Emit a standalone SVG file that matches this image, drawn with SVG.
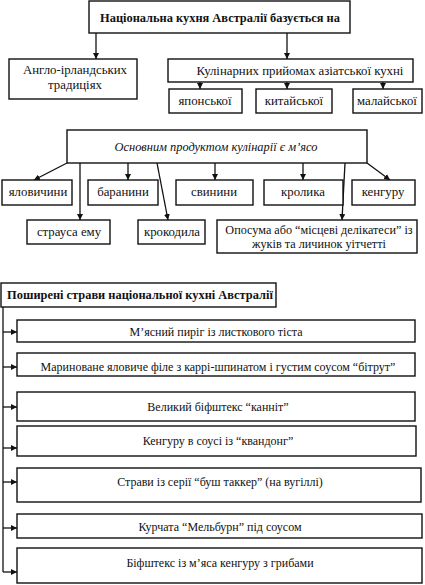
<svg xmlns="http://www.w3.org/2000/svg" width="425" height="585" viewBox="0 0 425 585">
<defs>
<marker id="ah" viewBox="0 0 10 10" refX="10" refY="5" markerWidth="6" markerHeight="6" markerUnits="userSpaceOnUse" orient="auto">
<path d="M0,0 L10,5 L0,10 z" fill="#111"/>
</marker>
</defs>
<style>
rect{fill:#fff;stroke:#111;stroke-width:1.4}
text{font-family:"Liberation Serif","DejaVu Serif","Times New Roman",serif;fill:#111;font-size:12.8px;text-anchor:middle}
.b{font-weight:bold;font-size:12.4px}
.i{font-style:italic;font-size:12.4px}
.s{font-size:12px}
.o{font-size:12.2px}
#connectors line{stroke:#111;stroke-width:1.3;fill:none;marker-end:url(#ah)}
#connectors .n{marker-end:none}
</style>
<rect x="0" y="0" width="425" height="585" style="fill:#fff;stroke:none"/>
<g id="connectors">
<line x1="96" y1="33" x2="96" y2="59"/>
<line x1="287" y1="33" x2="287" y2="59"/>
<line x1="200" y1="82" x2="200" y2="89"/>
<line x1="287" y1="82" x2="287" y2="89"/>
<line x1="383" y1="82" x2="383" y2="89"/>
<line x1="67" y1="163" x2="34" y2="180"/>
<line x1="80" y1="163" x2="80" y2="220"/>
<line x1="128" y1="163" x2="128" y2="180"/>
<line x1="157" y1="163" x2="168" y2="220"/>
<line x1="215" y1="163" x2="215" y2="180"/>
<line x1="303" y1="163" x2="303" y2="180"/>
<line x1="345" y1="163" x2="342" y2="220"/>
<line x1="367" y1="163" x2="390" y2="180"/>
<line class="n" x1="3" y1="307" x2="3" y2="572"/>
<line x1="3" y1="332" x2="17" y2="332"/>
<line x1="3" y1="367" x2="17" y2="367"/>
<line x1="3" y1="407" x2="17" y2="407"/>
<line x1="3" y1="448" x2="17" y2="448"/>
<line x1="3" y1="482" x2="17" y2="482"/>
<line x1="3" y1="528" x2="17" y2="528"/>
<line x1="3" y1="572" x2="17" y2="572"/>
</g>
<g id="n-title"><rect x="89" y="1" width="261" height="32"/><text class="b" x="220" y="22">Національна кухня Австралії базується на</text></g>
<g id="n-anglo"><rect x="9" y="59" width="128" height="40"/><text x="75" y="74">Англо-ірландських</text><text x="75" y="89">традиціях</text></g>
<g id="n-asia"><rect x="168" y="59" width="245" height="23"/><text x="300" y="75">Кулінарних прийомах азіатської кухні</text></g>
<g id="n-jp"><rect x="169" y="89" width="73" height="24"/><text x="205" y="105">японської</text></g>
<g id="n-cn"><rect x="256" y="89" width="76" height="24"/><text x="294" y="105">китайської</text></g>
<g id="n-my"><rect x="353" y="89" width="69" height="24"/><text x="387" y="105">малайської</text></g>
<g id="n-meat"><rect x="67" y="130" width="300" height="33"/><text class="i" x="216" y="151">Основним продуктом кулінарії є м’ясо</text></g>
<g id="n-beef"><rect x="2" y="180" width="70" height="25"/><text x="38" y="196">яловичини</text></g>
<g id="n-lamb"><rect x="88" y="180" width="70" height="25"/><text x="123" y="196">баранини</text></g>
<g id="n-pork"><rect x="176" y="180" width="77" height="25"/><text x="214" y="196">свинини</text></g>
<g id="n-rabbit"><rect x="264" y="180" width="79" height="25"/><text x="303" y="196">кролика</text></g>
<g id="n-kang"><rect x="352" y="180" width="63" height="25"/><text x="383" y="196">кенгуру</text></g>
<g id="n-emu"><rect x="27" y="220" width="83" height="24"/><text x="69" y="236">страуса ему</text></g>
<g id="n-croc"><rect x="138" y="220" width="67" height="24"/><text x="172" y="236">крокодила</text></g>
<g id="n-opos"><rect x="217" y="220" width="200" height="33"/><text class="o" x="319" y="234">Опосума або “місцеві делікатеси” із</text><text class="o" x="319" y="248">жуків та личинок уітчетті</text></g>
<g id="n-dishes"><rect x="1" y="283" width="275" height="24"/><text class="b" x="140" y="299">Поширені страви національної кухні Австралії</text></g>
<g id="d1"><rect x="17" y="320" width="398" height="22"/><text class="s" x="216" y="336">М’ясний пиріг із листкового тіста</text></g>
<g id="d2"><rect x="17" y="353" width="398" height="23"/><text class="s" x="218" y="371">Мариноване яловиче філе з каррі-шпинатом і густим соусом “бітрут”</text></g>
<g id="d3"><rect x="17" y="392" width="398" height="29"/><text class="s" x="218" y="411">Великий біфштекс “канніт”</text></g>
<g id="d4"><rect x="17" y="426" width="399" height="30"/><text class="s" x="218" y="445">Кенгуру в соусі із “квандонг”</text></g>
<g id="d5"><rect x="17" y="468" width="404" height="34"/><text class="s" x="220" y="486">Страви із серії “буш таккер” (на вугіллі)</text></g>
<g id="d6"><rect x="17" y="514" width="405" height="24"/><text class="s" x="220" y="531">Курчата “Мельбурн” під соусом</text></g>
<g id="d7"><rect x="17" y="548" width="405" height="35"/><text class="s" x="220" y="567">Біфштекс із м’яса кенгуру з грибами</text></g>
</svg>
